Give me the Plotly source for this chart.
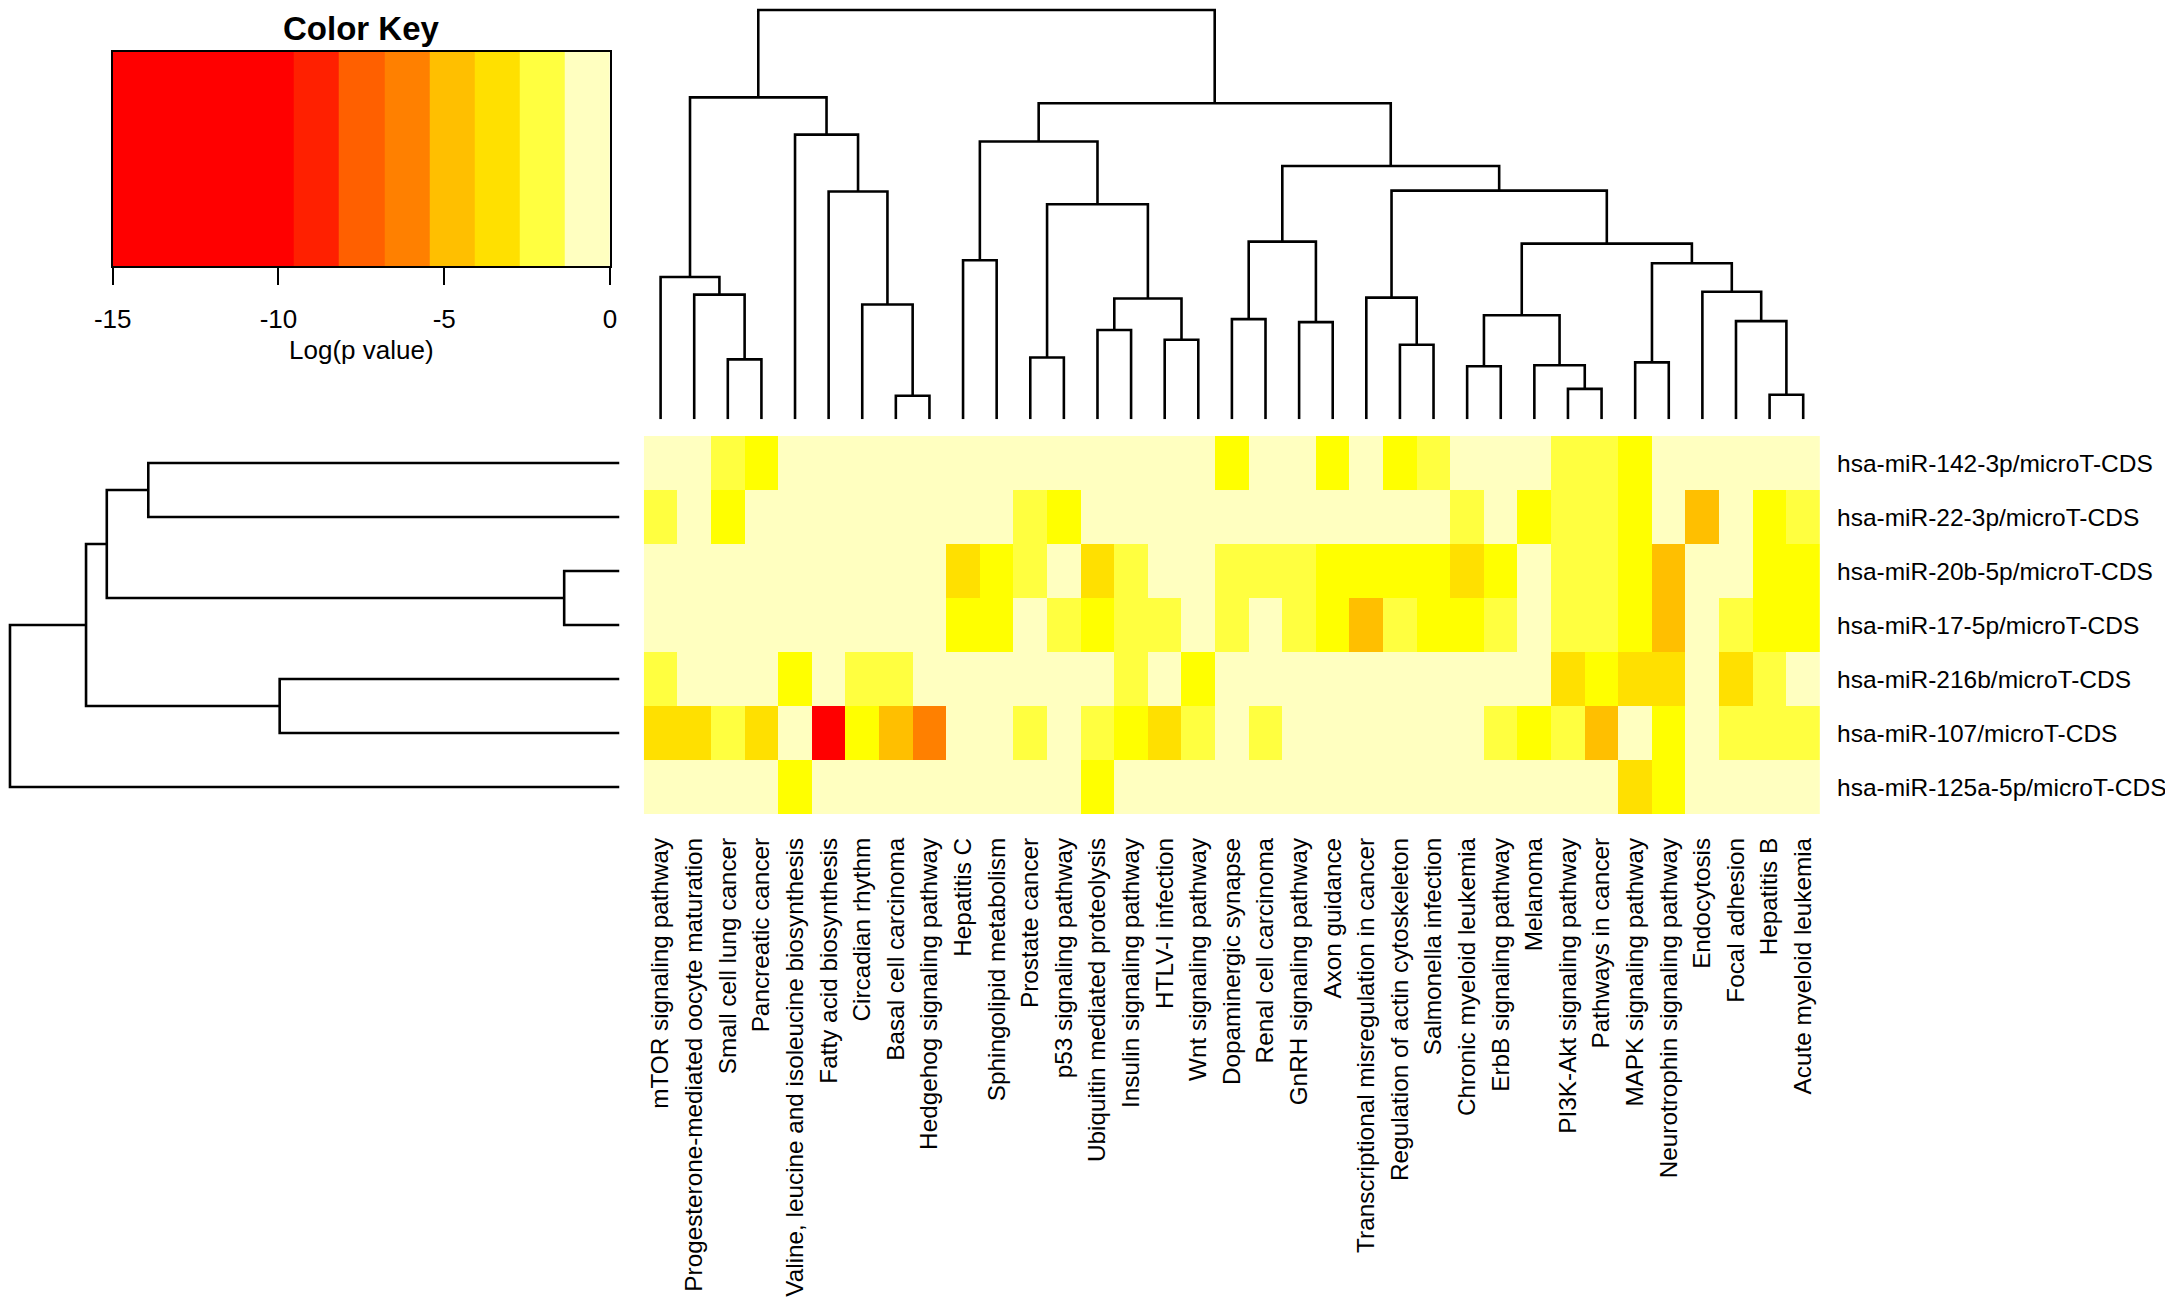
import plotly.graph_objects as go

W, H = 2173, 1298
OFF = 8  # page body margin in the browser

# pathways (columns) in dendrogram order
pathways = [
    "mTOR signaling pathway", "Progesterone-mediated oocyte maturation",
    "Small cell lung cancer", "Pancreatic cancer",
    "Valine, leucine and isoleucine biosynthesis", "Fatty acid biosynthesis",
    "Circadian rhythm", "Basal cell carcinoma", "Hedgehog signaling pathway",
    "Hepatitis C", "Sphingolipid metabolism", "Prostate cancer",
    "p53 signaling pathway", "Ubiquitin mediated proteolysis",
    "Insulin signaling pathway", "HTLV-I infection", "Wnt signaling pathway",
    "Dopaminergic synapse", "Renal cell carcinoma", "GnRH signaling pathway",
    "Axon guidance", "Transcriptional misregulation in cancer",
    "Regulation of actin cytoskeleton", "Salmonella infection",
    "Chronic myeloid leukemia", "ErbB signaling pathway", "Melanoma",
    "PI3K-Akt signaling pathway", "Pathways in cancer", "MAPK signaling pathway",
    "Neurotrophin signaling pathway", "Endocytosis", "Focal adhesion",
    "Hepatitis B", "Acute myeloid leukemia",
]

# miRNAs (rows), top to bottom
mirnas = [
    "hsa-miR-142-3p/microT-CDS", "hsa-miR-22-3p/microT-CDS",
    "hsa-miR-20b-5p/microT-CDS", "hsa-miR-17-5p/microT-CDS",
    "hsa-miR-216b/microT-CDS", "hsa-miR-107/microT-CDS",
    "hsa-miR-125a-5p/microT-CDS",
]

# log(p value) per cell, estimated from the colours
miR_142_3p = [-0.5, -0.5, -1.7, -2.4, -0.5, -0.5, -0.5, -0.5, -0.5, -0.5, -0.5, -0.5,
              -0.5, -0.5, -0.5, -0.5, -0.5, -2.4, -0.5, -0.5, -2.4, -0.5, -2.4, -1.7,
              -0.5, -0.5, -0.5, -1.7, -1.7, -2.4, -0.5, -0.5, -0.5, -0.5, -0.5]
miR_22_3p = [-1.7, -0.5, -2.4, -0.5, -0.5, -0.5, -0.5, -0.5, -0.5, -0.5, -0.5, -1.7,
             -2.4, -0.5, -0.5, -0.5, -0.5, -0.5, -0.5, -0.5, -0.5, -0.5, -0.5, -0.5,
             -1.7, -0.5, -2.4, -1.7, -1.7, -2.4, -0.5, -4.8, -0.5, -2.4, -1.7]
miR_20b_5p = [-0.5, -0.5, -0.5, -0.5, -0.5, -0.5, -0.5, -0.5, -0.5, -3.4, -2.4, -1.7,
              -0.5, -3.4, -1.7, -0.5, -0.5, -1.7, -1.7, -1.7, -2.4, -2.4, -2.4, -2.4,
              -3.4, -2.4, -0.5, -1.7, -1.7, -2.4, -4.8, -0.5, -0.5, -2.4, -2.4]
miR_17_5p = [-0.5, -0.5, -0.5, -0.5, -0.5, -0.5, -0.5, -0.5, -0.5, -2.4, -2.4, -0.5,
             -1.7, -2.4, -1.7, -1.7, -0.5, -1.7, -0.5, -1.7, -2.4, -4.8, -1.7, -2.4,
             -2.4, -1.7, -0.5, -1.7, -1.7, -2.4, -4.8, -0.5, -1.7, -2.4, -2.4]
miR_216b = [-1.7, -0.5, -0.5, -0.5, -2.4, -0.5, -1.7, -1.7, -0.5, -0.5, -0.5, -0.5,
            -0.5, -0.5, -1.7, -0.5, -2.4, -0.5, -0.5, -0.5, -0.5, -0.5, -0.5, -0.5,
            -0.5, -0.5, -0.5, -3.4, -2.4, -3.4, -3.4, -0.5, -3.4, -1.7, -0.5]
miR_107 = [-3.4, -3.4, -1.7, -3.4, -0.5, -12.0, -2.4, -4.8, -6.1, -0.5, -0.5, -1.7,
           -0.5, -1.7, -2.4, -3.4, -1.7, -0.5, -1.7, -0.5, -0.5, -0.5, -0.5, -0.5,
           -0.5, -1.7, -2.4, -1.7, -4.8, -0.5, -2.4, -0.5, -1.7, -1.7, -1.7]
miR_125a_5p = [-0.5, -0.5, -0.5, -0.5, -2.4, -0.5, -0.5, -0.5, -0.5, -0.5, -0.5, -0.5,
               -0.5, -2.4, -0.5, -0.5, -0.5, -0.5, -0.5, -0.5, -0.5, -0.5, -0.5, -0.5,
               -0.5, -0.5, -0.5, -0.5, -0.5, -3.4, -2.4, -0.5, -0.5, -0.5, -0.5]

# colour bins for the cells
cell_breaks = [-15, -9.55, -8.17, -6.81, -5.45, -4.08, -2.72, -2.05, -1.36, 0]
cell_colors = ["#FF0000", "#FF2000", "#FF6000", "#FF8000", "#FFBF00",
               "#FFE000", "#FFFF00", "#FFFF40", "#FFFFC0"]

# colour key bands
key_breaks = [-15, -9.55, -8.17, -6.81, -5.45, -4.08, -2.72, -1.36, 0]
key_colors = ["#FF0000", "#FF2000", "#FF6000", "#FF8000", "#FFBF00",
              "#FFE000", "#FFFF40", "#FFFFC0"]
key_ticks = [-15, -10, -5, 0]

# column dendrogram merges (ids >= 35 are earlier merges)
col_left = [2, 1, 0, 7, 6, 5, 4, 37, 9, 11, 13, 15, 45, 44, 43, 17, 19, 50,
            22, 21, 24, 27, 26, 55, 29, 33, 32, 31, 59, 58, 54, 52, 49, 42]
col_right = [3, 35, 36, 8, 38, 39, 40, 41, 10, 12, 14, 16, 46, 47, 48, 18, 20, 51,
             23, 53, 25, 28, 56, 57, 30, 34, 60, 61, 62, 63, 64, 65, 66, 67]
col_height = [0.61, 1.27, 1.45, 0.24, 1.17, 2.32, 2.90, 3.28, 1.62, 0.63, 0.91,
              0.81, 1.23, 2.19, 2.83, 1.02, 0.99, 1.81, 0.76, 1.24, 0.54, 0.31,
              0.55, 1.06, 0.58, 0.25, 1.00, 1.30, 1.59, 1.79, 2.33, 2.58, 3.22, 4.17]

# row dendrogram merges (ids >= 7 are earlier merges)
row_left = [0, 2, 7, 4, 9, 11]
row_right = [1, 3, 8, 5, 10, 6]
row_height = [4.77, 0.56, 5.19, 3.44, 5.40, 6.17]

FONT = "Liberation Sans, Arial, sans-serif"


def px_x(p):
    return (p - OFF) / W


def px_y(p):
    return 1 - (p - OFF) / H


def dendro_lines(n, left, right, height):
    pos = {i: float(i) for i in range(n)}
    hgt = {i: 0.0 for i in range(n)}
    xs, ys = [], []
    for k, (a, b, h) in enumerate(zip(left, right, height)):
        xa, xb = pos[a], pos[b]
        xs += [xa, xa, xb, xb, None]
        ys += [hgt[a], h, h, hgt[b], None]
        pos[n + k] = (xa + xb) / 2
        hgt[n + k] = h
    return xs, ys


def discrete_scale(breaks, colors):
    lo, hi = breaks[0], breaks[-1]
    scale = []
    for i, c in enumerate(colors):
        scale.append([(breaks[i] - lo) / (hi - lo), c])
        scale.append([(breaks[i + 1] - lo) / (hi - lo), c])
    return scale


z = [miR_142_3p, miR_22_3p, miR_20b_5p, miR_17_5p, miR_216b, miR_107, miR_125a_5p]
ncol, nrow = len(pathways), len(mirnas)

hm_x = [px_x(643.8), px_x(1820)]
hm_y = [px_y(814), px_y(436)]

fig = go.Figure()

fig.add_trace(go.Heatmap(
    z=z, x=list(range(ncol)), y=list(range(nrow)),
    colorscale=discrete_scale(cell_breaks, cell_colors),
    zmin=cell_breaks[0], zmax=cell_breaks[-1],
    showscale=False, xaxis="x", yaxis="y", hoverinfo="skip",
))

cx, cy = dendro_lines(ncol, col_left, col_right, col_height)
fig.add_trace(go.Scatter(x=cx, y=cy, mode="lines", line=dict(color="black", width=2.6),
                         xaxis="x2", yaxis="y2", hoverinfo="skip"))

rx, ry = dendro_lines(nrow, row_left, row_right, row_height)
fig.add_trace(go.Scatter(x=ry, y=rx, mode="lines", line=dict(color="black", width=2.6),
                         xaxis="x3", yaxis="y3", hoverinfo="skip"))

key_mid = [(key_breaks[i] + key_breaks[i + 1]) / 2 for i in range(len(key_colors))]
fig.add_trace(go.Heatmap(
    z=[key_mid], x=key_breaks, y=[0, 1],
    colorscale=discrete_scale(key_breaks, key_colors),
    zmin=key_breaks[0], zmax=key_breaks[-1],
    showscale=False, xaxis="x4", yaxis="y4", hoverinfo="skip",
))

hidden = dict(showgrid=False, zeroline=False, showticklabels=False, ticks="",
              showline=False, automargin=False)

fig.update_layout(
    width=W, height=H, template="none",
    margin=dict(l=0, r=0, t=0, b=0),
    paper_bgcolor="white", plot_bgcolor="white",
    showlegend=False,
    font=dict(family=FONT, color="black"),
    xaxis=dict(domain=hm_x, range=[-0.5, ncol - 0.5], tickvals=list(range(ncol)),
               ticktext=pathways, tickangle=-90, ticks="", showgrid=False,
               zeroline=False, showline=False, automargin=False,
               ticklabelstandoff=18, tickfont=dict(size=24.3, family=FONT)),
    yaxis=dict(domain=hm_y, range=[nrow - 0.5, -0.5], tickvals=list(range(nrow)),
               ticktext=mirnas, side="right", ticks="", showgrid=False,
               zeroline=False, showline=False, automargin=False,
               ticklabelstandoff=16, tickfont=dict(size=24.5, family=FONT)),
    xaxis2=dict(domain=hm_x, range=[-0.5, ncol - 0.5], anchor="y2", **hidden),
    yaxis2=dict(domain=[px_y(419.3), 1.0], range=[0, col_height[-1] + 0.02],
                anchor="x2", **hidden),
    xaxis3=dict(domain=[0, px_x(619.5)], range=[row_height[-1] + 0.02, 0],
                anchor="y3", **hidden),
    yaxis3=dict(domain=hm_y, range=[nrow - 0.5, -0.5], anchor="x3", **hidden),
    xaxis4=dict(domain=[px_x(112.7), px_x(610)], range=[-15, 0], anchor="y4",
                tickvals=key_ticks, ticktext=[str(t) for t in key_ticks],
                ticks="outside", ticklen=17, tickwidth=2,
                tickcolor="black", showline=True, mirror=True, linecolor="black",
                linewidth=2, showgrid=False, zeroline=False, automargin=False,
                tickfont=dict(size=26, family=FONT), ticklabelstandoff=12,
                title=dict(text="Log(p value)", font=dict(size=26, family=FONT),
                           standoff=8)),
    yaxis4=dict(domain=[px_y(266), px_y(52)], range=[0, 1], anchor="x4",
                showline=True, mirror=True, linecolor="black", linewidth=2,
                showgrid=False, zeroline=False, showticklabels=False, ticks="",
                automargin=False),
    annotations=[dict(text="<b>Color Key</b>", x=px_x(361), y=1.0,
                      xref="paper", yref="paper", showarrow=False,
                      xanchor="center", yanchor="top",
                      font=dict(size=33, family=FONT, color="black"))],
)

fig.write_html("out.html")
